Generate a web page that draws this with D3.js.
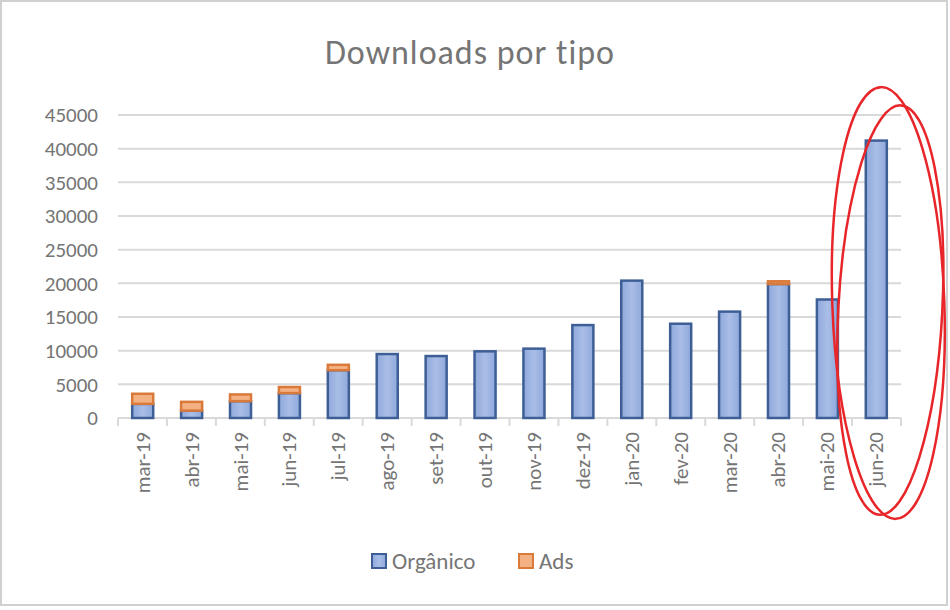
<!DOCTYPE html>
<html><head><meta charset="utf-8">
<script src="https://cdn.jsdelivr.net/npm/d3@7"></script>
<style>body{margin:0;background:#fff}text{font-family:Calibri,Carlito,"Open Sans",sans-serif}</style>
</head><body><svg id="c" width="950" height="610"></svg>
<script>
// data
const months = ["mar-19","abr-19","mai-19","jun-19","jul-19","ago-19","set-19","out-19","nov-19","dez-19","jan-20","fev-20","mar-20","abr-20","mai-20","jun-20"]
const organico = [2100,1100,2500,3700,7100,9500,9200,9900,10300,13800,20400,14000,15800,19900,17600,41200]
const ads = [1500,1300,1000,900,800,0,0,0,0,0,0,0,0,400,0,0]
const yTicks = [0,5000,10000,15000,20000,25000,30000,35000,40000,45000]

const svg = d3.select("#c")
svg.append("rect").attr("x",1).attr("y",1).attr("width",946).attr("height",604).attr("fill","#fff").attr("stroke","#d0d0d0").attr("stroke-width",2)

const x = d3.scaleBand().domain(months).range([118,901]).paddingInner(0.57).paddingOuter(0.29)
const y = d3.scaleLinear().domain([0,45000]).range([418,115])

// gridlines
svg.append("g").selectAll("line").data(yTicks).join("line")
  .attr("x1",118).attr("x2",901).attr("y1",d=>y(d)).attr("y2",d=>y(d))
  .attr("stroke","#d9d9d9").attr("stroke-width",2)

svg.append("g").selectAll("text").data(yTicks).join("text")
  .attr("x",98).attr("y",d=>y(d)).attr("dy","0.35em").attr("text-anchor","end")
  .attr("font-size",21).attr("fill","#757575").text(d=>d)

// x axis ticks
const step = (901-118)/months.length
svg.append("line").attr("x1",118).attr("x2",901).attr("y1",418).attr("y2",418).attr("stroke","#d9d9d9").attr("stroke-width",2)
svg.append("g").selectAll("line").data(d3.range(months.length+1)).join("line")
  .attr("x1",d=>118+d*step).attr("x2",d=>118+d*step).attr("y1",418).attr("y2",426)
  .attr("stroke","#d9d9d9").attr("stroke-width",2)

const grad = svg.append("defs").append("linearGradient").attr("id","gb")
grad.append("stop").attr("offset","0").attr("stop-color","#8fa9dc")
grad.append("stop").attr("offset","0.5").attr("stop-color","#a9bde6")
grad.append("stop").attr("offset","1").attr("stop-color","#8fa9dc")

const bw = x.bandwidth()
svg.append("g").selectAll("rect").data(months).join("rect")
  .attr("x",d=>x(d)).attr("width",bw)
  .attr("y",(d,i)=>y(organico[i])).attr("height",(d,i)=>y(0)-y(organico[i]))
  .attr("fill","url(#gb)").attr("stroke","#3e5f95").attr("stroke-width",2.5)
svg.append("g").selectAll("rect").data(months.filter((d,i)=>ads[i]>0)).join("rect")
  .attr("x",d=>x(d)).attr("width",bw)
  .attr("y",d=>{const i=months.indexOf(d);return y(organico[i]+ads[i])})
  .attr("height",d=>{const i=months.indexOf(d);return y(organico[i])-y(organico[i]+ads[i])})
  .attr("fill","#f4b183").attr("stroke","#d9793a").attr("stroke-width",2.5)

svg.append("g").selectAll("text").data(months).join("text")
  .attr("transform",d=>`translate(${x(d)+bw/2+7},432) rotate(-90)`)
  .attr("text-anchor","end").attr("font-size",21).attr("fill","#757575").text(d=>d)

svg.append("text").attr("x",470).attr("y",64).attr("text-anchor","middle")
  .attr("font-size",34).attr("fill","#757575").attr("letter-spacing",1).text("Downloads por tipo")

// legend
const leg = [["Orgânico","url(#gb)","#3e5f95",372],["Ads","#f4b183","#d9793a",519]]
leg.forEach(([t,f,s,lx])=>{
  svg.append("rect").attr("x",lx).attr("y",554).attr("width",14).attr("height",14).attr("fill",f).attr("stroke",s).attr("stroke-width",2)
  svg.append("text").attr("x",lx+20).attr("y",569).attr("font-size",23).attr("fill","#757575").text(t)
})

// red hand-drawn circle around jun-20
const cx = x("jun-20")+bw/2 + 12
svg.append("ellipse").attr("cx",cx).attr("cy",303).attr("rx",56).attr("ry",216).attr("transform",`rotate(-2 ${cx} 303)`)
  .attr("fill","none").attr("stroke","#e8262a").attr("stroke-width",2.5)
svg.append("ellipse").attr("cx",cx+2).attr("cy",310).attr("rx",52).attr("ry",205).attr("transform",`rotate(3 ${cx} 310)`)
  .attr("fill","none").attr("stroke","#e8262a").attr("stroke-width",2.5)
</script></body></html>
